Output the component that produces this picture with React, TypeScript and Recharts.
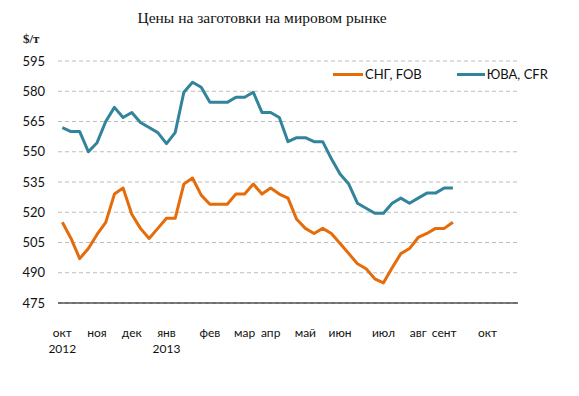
import { LineChart, Line, XAxis, YAxis, CartesianGrid } from 'recharts'

const sngFob = [
  515, 507, 497, 502, 509, 515, 529, 532, 519, 512, 507, 512, 517, 517, 534, 537,
  528.5, 524, 524, 524, 529, 529, 534, 529, 532, 529, 527, 516.5, 512, 509.5, 512,
  509.5, 504.5, 499.5, 494.5, 492, 487, 485, 492.5, 499.5, 502, 507.5, 509.5, 512, 512, 515,
]
const sea = [
  562, 560, 560, 550, 554.5, 565, 572, 567, 569.5, 564.5, 562, 559.5, 554, 559.5, 579.5,
  584.5, 582, 574.5, 574.5, 574.5, 577, 577, 579.5, 569.5, 569.5, 567, 555, 557, 557, 555,
  555, 546.5, 539, 534, 524.5, 522, 519.5, 519.5, 524.5, 527, 524.5, 527, 529.5, 529.5, 532, 532,
]
const weekCount = 53
const monthLabels = ['окт', 'ноя', 'дек', 'янв', 'фев', 'мар', 'апр', 'май', 'июн', 'июл', 'авг', 'сент', 'окт']
const monthIdx = [0, 4, 8, 12, 17, 21, 24, 28, 32, 37, 41, 44, 49]
const yearLabels: Record<number, string> = { 0: '2012', 12: '2013' }
const yTicks = [475, 490, 505, 520, 535, 550, 565, 580, 595]

const ORANGE = '#E46C0A'
const TEAL = '#31849B'

const series = [
  { key: 'sng', name: 'СНГ, FOB', color: ORANGE, w: 30 },
  { key: 'sea', name: 'ЮВА, CFR', color: TEAL, w: 28 },
]

const data = Array.from({ length: weekCount }, (_, i) => ({
  i,
  sng: i < sngFob.length ? sngFob[i] : null,
  sea: i < sea.length ? sea[i] : null,
}))

function MonthTick(props: any) {
  const { x, y, payload } = props
  const idx = monthIdx.indexOf(payload.value)
  if (idx < 0) return null
  const year = yearLabels[payload.value]
  return (
    <text x={x} y={y} textAnchor="middle" fontFamily="Lato" fontSize={12} fill="#111">
      <tspan x={x} dy={34}>{monthLabels[idx]}</tspan>
      {year && <tspan x={x} dy={16}>{year}</tspan>}
    </text>
  )
}

export default function App() {
  return (
    <div style={{ position: 'fixed', left: 0, top: 0, width: 579, height: 396, background: '#fff' }}>
      <LineChart width={579} height={396} data={data} margin={{ top: 61, right: 61, bottom: 92, left: 0 }}>
        <CartesianGrid horizontal vertical={false} stroke="#bdbdbd" strokeDasharray="4 3" />
        <XAxis
          dataKey="i"
          height={1}
          ticks={monthIdx}
          interval={0}
          tick={<MonthTick />}
          tickLine={false}
          tickSize={0}
          tickMargin={0}
          axisLine={{ stroke: '#000', strokeWidth: 1 }}
          padding={{ left: 4.34, right: 4.34 }}
        />
        <YAxis
          width={58}
          domain={[475, 595]}
          ticks={yTicks}
          interval={0}
          axisLine={false}
          tickLine={false}
          tickSize={0}
          tickMargin={13}
          tick={{ fontFamily: 'Lato', fontSize: 13, fill: '#111' }}
        />
        {series.map((s) => (
          <Line
            key={s.key}
            dataKey={s.key}
            name={s.name}
            stroke={s.color}
            strokeWidth={3}
            dot={false}
            strokeLinejoin="round"
            isAnimationActive={false}
          />
        ))}
      </LineChart>
      <div
        style={{
          position: 'absolute', left: 0, width: 524, top: 9, textAlign: 'center',
          fontFamily: 'Liberation Serif', fontSize: 15.5, color: '#111',
        }}
      >
        Цены на заготовки на мировом рынке
      </div>
      <div
        style={{
          position: 'absolute', left: 23, top: 31, fontFamily: 'Liberation Serif',
          fontSize: 13, fontWeight: 'bold', color: '#222',
        }}
      >
        $/т
      </div>
      {/* legend */}
      <div
        style={{
          position: 'absolute', left: 333, top: 66, display: 'flex', gap: 35,
          fontFamily: 'Lato', fontSize: 13, color: '#111',
        }}
      >
        {series.map((s) => (
          <div key={s.key} style={{ display: 'flex', alignItems: 'center', gap: 2 }}>
            <span style={{ width: s.w, height: 3, background: s.color, display: 'inline-block' }} />
            <span>{s.name}</span>
          </div>
        ))}
      </div>
    </div>
  )
}
